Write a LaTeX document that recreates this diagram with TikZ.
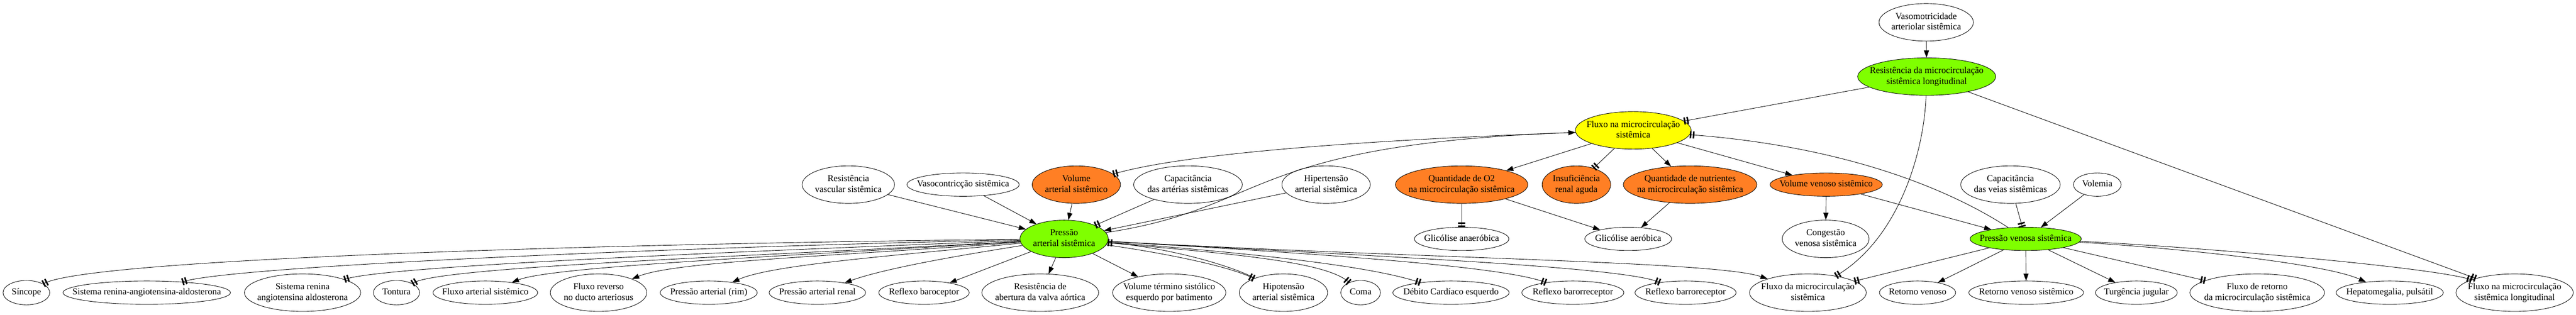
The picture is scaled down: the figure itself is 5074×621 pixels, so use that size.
\documentclass[tikz,border=0pt]{standalone}
\usepackage{fontspec}
\setmainfont{Liberation Serif}
\usetikzlibrary{shapes.geometric,arrows.meta}
\definecolor{verde}{HTML}{7FFF00}
\definecolor{amarelo}{HTML}{FFFF00}
\definecolor{laranja}{HTML}{FF7F24}
\newcommand{\tx}[1]{\makebox[0pt]{\begin{tabular}{@{}c@{}}#1\end{tabular}}}
\begin{document}
\begin{tikzpicture}[x=1pt,y=-1pt,line width=0.9pt,
  >={Triangle[length=14pt,width=10pt]},
  ell/.style={ellipse,draw,inner sep=0pt,minimum height=46pt,font=\fontsize{18}{21}\selectfont},
  two/.style={minimum height=74pt},
  inib/.style={-{Bar[width=14pt,line width=3pt,sep=3pt]Bar[width=14pt,line width=3pt]}}]
\path[use as bounding box] (0,0) rectangle (5074,621);

\node[ell,two,minimum width=186pt] (vasomot) at (3794,44) {\tx{Vasomotricidade\\arteriolar sistêmica}};
\node[ell,two,fill=verde,minimum width=272pt] (resmic) at (3795,151) {\tx{Resistência da microcirculação\\sistêmica longitudinal}};
\node[ell,two,fill=amarelo,minimum width=228pt] (fluxmic) at (3217,257) {\tx{Fluxo na microcirculação\\sistêmica}};

\node[ell,two,minimum width=182pt] (resvasc) at (1671,364) {\tx{Resistência\\vascular sistêmica}};
\node[ell,minimum width=221pt] (vasoc) at (1897,364) {\tx{Vasocontricção sistêmica}};
\node[ell,two,fill=laranja,minimum width=174pt] (volart) at (2120,364) {\tx{Volume\\arterial sistêmico}};
\node[ell,two,minimum width=214pt] (capart) at (2340,364) {\tx{Capacitância\\das artérias sistêmicas}};
\node[ell,two,minimum width=174pt] (hipert) at (2612,364) {\tx{Hipertensão\\arterial sistêmica}};
\node[ell,two,fill=laranja,minimum width=261pt] (qoxi) at (2879,364) {\tx{Quantidade de O2\\na microcirculação sistêmica}};
\node[ell,two,fill=laranja,minimum width=135pt] (insren) at (3105,364) {\tx{Insuficiência\\renal aguda}};
\node[ell,two,fill=laranja,minimum width=263pt] (qnutr) at (3329,364) {\tx{Quantidade de nutrientes\\na microcirculação sistêmica}};
\node[ell,fill=laranja,minimum width=221pt] (volven) at (3597,364) {\tx{Volume venoso sistêmico}};
\node[ell,two,minimum width=196pt] (capvei) at (3960,364) {\tx{Capacitância\\das veias sistêmicas}};
\node[ell,minimum width=94pt] (volem) at (4131,364) {\tx{Volemia}};

\node[ell,two,fill=verde,minimum width=174pt] (pressart) at (2096,471) {\tx{Pressão\\arterial sistêmica}};
\node[ell,minimum width=186pt] (glicanae) at (2879,471) {\tx{Glicólise anaeróbica}};
\node[ell,minimum width=171pt] (glicae) at (3207,471) {\tx{Glicólise aeróbica}};
\node[ell,two,minimum width=171pt] (congest) at (3596,471) {\tx{Congestão\\venosa sistêmica}};
\node[ell,fill=verde,minimum width=219pt] (pressven) at (3990,471) {\tx{Pressão venosa sistêmica}};

\node[ell,minimum width=92pt,minimum height=48pt] (sincope) at (52,577) {\tx{Síncope}};
\node[ell,minimum width=330pt] (sraa) at (289,577) {\tx{Sistema renina-angiotensina-aldosterona}};
\node[ell,two,minimum width=229pt] (sraab) at (596,577) {\tx{Sistema renina\\angiotensina aldosterona}};
\node[ell,minimum width=91pt,minimum height=48pt] (tontura) at (781,577) {\tx{Tontura}};
\node[ell,minimum width=206pt] (fluxart) at (956,577) {\tx{Fluxo arterial sistêmico}};
\node[ell,two,minimum width=190pt] (fluxrev) at (1179,577) {\tx{Fluxo reverso\\no ducto arteriosus}};
\node[ell,minimum width=191pt] (parim) at (1396,577) {\tx{Pressão arterial (rim)}};
\node[ell,minimum width=190pt] (parenal) at (1610,577) {\tx{Pressão arterial renal}};
\node[ell,minimum width=178pt] (reflexa) at (1820,577) {\tx{Reflexo baroceptor}};
\node[ell,two,minimum width=230pt] (resvalva) at (2049,577) {\tx{Resistência de\\abertura da valva aórtica}};
\node[ell,two,minimum width=223pt] (voltermino) at (2303,577) {\tx{Volume término sistólico\\esquerdo por batimento}};
\node[ell,two,minimum width=174pt] (hipotens) at (2528,577) {\tx{Hipotensão\\arterial sistêmica}};
\node[ell,minimum width=78pt,minimum height=48pt] (coma) at (2680,577) {\tx{Coma}};
\node[ell,minimum width=229pt] (debito) at (2858,577) {\tx{Débito Cardíaco esquerdo}};
\node[ell,minimum width=201pt] (reflexb) at (3098,577) {\tx{Reflexo barorreceptor}};
\node[ell,minimum width=199pt] (reflexc) at (3320,577) {\tx{Reflexo barroreceptor}};
\node[ell,two,minimum width=230pt] (fluxdamic) at (3561,577) {\tx{Fluxo da microcirculação\\sistêmica}};
\node[ell,minimum width=150pt] (retven) at (3777,577) {\tx{Retorno venoso}};
\node[ell,minimum width=226pt] (retvensis) at (3991,577) {\tx{Retorno venoso sistêmico}};
\node[ell,minimum width=161pt] (turgencia) at (4208,577) {\tx{Turgência jugular}};
\node[ell,two,minimum width=265pt] (fluxret) at (4446,577) {\tx{Fluxo de retorno\\da microcirculação sistêmica}};
\node[ell,minimum width=211pt] (hepato) at (4707,577) {\tx{Hepatomegalia, pulsátil}};
\node[ell,two,minimum width=231pt] (fluxlong) at (4953,577) {\tx{Fluxo na microcirculação\\sistêmica longitudinal}};

% arterial side
\draw[->] (resvasc) -- (pressart);
\draw[->] (vasoc) -- (pressart);
\draw[->] (volart) -- (pressart);
\draw[inib] (capart) -- (pressart);
\draw[->] (hipert) -- (pressart);
\draw[inib] (hipotens) .. controls (2420,522) and (2300,488) .. (pressart);
\draw[->] (pressart) .. controls (2500,410) and (2450,285) .. (fluxmic);
\draw[inib] (fluxmic) .. controls (2750,274) and (2350,298) .. (volart);

\draw[inib] (pressart) .. controls (1200,480) and (180,510) .. (sincope);
\draw[inib] (pressart) .. controls (1300,488) and (460,525) .. (sraa);
\draw[inib] (pressart) .. controls (1400,498) and (760,525) .. (sraab);
\draw[inib] (pressart) .. controls (1500,505) and (870,525) .. (tontura);
\draw[->] (pressart) .. controls (1550,505) and (1090,525) .. (fluxart);
\draw[->] (pressart) .. controls (1650,505) and (1330,515) .. (fluxrev);
\draw[->] (pressart) .. controls (1750,505) and (1520,522) .. (parim);
\draw[->] (pressart) .. controls (1880,505) and (1740,530) .. (parenal);
\draw[->] (pressart) -- (reflexa);
\draw[->] (pressart) -- (resvalva);
\draw[->] (pressart) -- (voltermino);
\draw[inib] (pressart) .. controls (2300,500) and (2420,525) .. (hipotens);
\draw[inib] (pressart) .. controls (2420,500) and (2610,515) .. (coma);
\draw[inib] (pressart) .. controls (2480,500) and (2700,525) .. (debito);
\draw[inib] (pressart) .. controls (2600,500) and (2960,525) .. (reflexb);
\draw[inib] (pressart) .. controls (2700,505) and (3190,525) .. (reflexc);
\draw[->] (pressart) .. controls (2800,510) and (3380,515) .. (fluxdamic);

% microcirculation
\draw[->] (vasomot) -- (resmic);
\draw[inib] (resmic) -- (fluxmic);
\draw[inib] (resmic) .. controls (3790,300) and (3740,470) .. (fluxdamic);
\draw[inib] (resmic) -- (fluxlong);
\draw[->] (fluxmic) -- (qoxi);
\draw[inib] (fluxmic) -- (insren);
\draw[->] (fluxmic) -- (qnutr);
\draw[->] (fluxmic) -- (volven);
\draw[inib] (qoxi) -- (glicanae);
\draw[->] (qoxi) -- (glicae);
\draw[->] (qnutr) -- (glicae);

% venous side
\draw[->] (volven) -- (congest);
\draw[->] (volven) -- (pressven);
\draw[inib] (capvei) -- (pressven);
\draw[->] (volem) -- (pressven);
\draw[inib] (pressven) .. controls (3850,380) and (3650,290) .. (fluxmic);
\draw[inib] (pressven) -- (fluxdamic);
\draw[->] (pressven) -- (retven);
\draw[->] (pressven) -- (retvensis);
\draw[->] (pressven) -- (turgencia);
\draw[inib] (pressven) -- (fluxret);
\draw[->] (pressven) .. controls (4300,490) and (4580,520) .. (hepato);
\draw[inib] (pressven) .. controls (4300,485) and (4780,525) .. (fluxlong);
\end{tikzpicture}
\end{document}
